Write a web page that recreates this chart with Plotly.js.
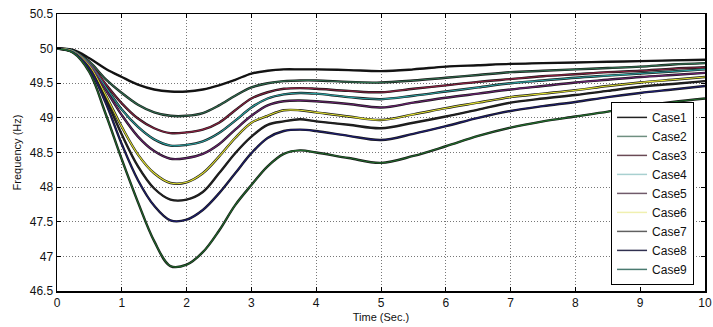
<!DOCTYPE html>
<html>
<head>
<meta charset="utf-8">
<script src="https://cdn.plot.ly/plotly-3.0.1.min.js"></script>
<style>html,body{margin:0;padding:0;background:#fff;}#chart{width:713px;height:327px;}</style>
</head>
<body>
<div id="chart"></div>
<script>
const time = [0, 0.25, 0.5, 0.75, 1, 1.25, 1.5, 1.75, 2, 2.25, 2.5, 2.75, 3, 3.25, 3.5, 3.75, 4, 4.5, 5, 5.5, 6, 6.5, 7, 7.5, 8, 8.5, 9, 9.5, 10];
const case1 = [50, 49.98, 49.86, 49.71, 49.59, 49.48, 49.41, 49.38, 49.38, 49.41, 49.47, 49.55, 49.64, 49.68, 49.70, 49.70, 49.70, 49.69, 49.675, 49.70, 49.74, 49.76, 49.78, 49.79, 49.80, 49.81, 49.82, 49.83, 49.84];
const case2 = [50, 49.97, 49.81, 49.56, 49.36, 49.19, 49.08, 49.03, 49.03, 49.07, 49.18, 49.32, 49.44, 49.50, 49.53, 49.54, 49.54, 49.52, 49.51, 49.54, 49.58, 49.62, 49.66, 49.68, 49.70, 49.72, 49.74, 49.77, 49.79];
const case3 = [50, 49.97, 49.79, 49.49, 49.21, 48.99, 48.85, 48.78, 48.79, 48.83, 48.93, 49.11, 49.28, 49.37, 49.42, 49.43, 49.42, 49.39, 49.37, 49.42, 49.47, 49.52, 49.56, 49.60, 49.63, 49.66, 49.68, 49.71, 49.73];
const case4 = [50, 49.97, 49.78, 49.45, 49.12, 48.87, 48.69, 48.60, 48.61, 48.66, 48.78, 48.96, 49.15, 49.28, 49.34, 49.36, 49.35, 49.30, 49.27, 49.32, 49.38, 49.44, 49.50, 49.54, 49.58, 49.61, 49.64, 49.67, 49.70];
const case5 = [50, 49.96, 49.77, 49.41, 49.04, 48.73, 48.52, 48.41, 48.42, 48.48, 48.62, 48.83, 49.03, 49.18, 49.24, 49.25, 49.24, 49.20, 49.15, 49.22, 49.29, 49.35, 49.41, 49.46, 49.51, 49.55, 49.59, 49.62, 49.65];
const case6 = [50, 49.96, 49.75, 49.33, 48.87, 48.47, 48.20, 48.06, 48.07, 48.20, 48.44, 48.71, 48.93, 49.03, 49.11, 49.11, 49.08, 49.02, 48.97, 49.05, 49.14, 49.22, 49.30, 49.35, 49.40, 49.46, 49.51, 49.55, 49.59];
const case7 = [50, 49.95, 49.73, 49.28, 48.76, 48.30, 47.98, 47.82, 47.82, 47.93, 48.20, 48.49, 48.73, 48.90, 48.95, 48.98, 48.95, 48.90, 48.85, 48.93, 49.02, 49.12, 49.22, 49.28, 49.33, 49.39, 49.45, 49.49, 49.53];
const case8 = [50, 49.95, 49.71, 49.22, 48.62, 48.10, 47.73, 47.52, 47.53, 47.67, 47.91, 48.20, 48.49, 48.71, 48.81, 48.83, 48.81, 48.74, 48.68, 48.77, 48.88, 49.00, 49.10, 49.17, 49.23, 49.30, 49.36, 49.41, 49.46];
const case9 = [50, 49.94, 49.66, 49.06, 48.40, 47.78, 47.22, 46.86, 46.88, 47.06, 47.37, 47.74, 48.03, 48.30, 48.48, 48.53, 48.50, 48.42, 48.35, 48.45, 48.59, 48.74, 48.86, 48.95, 49.02, 49.09, 49.17, 49.23, 49.28];
const seriesNames = ["Case1","Case2","Case3","Case4","Case5","Case6","Case7","Case8","Case9"];
const seriesValues = [case1, case2, case3, case4, case5, case6, case7, case8, case9];
const coreColors = ["#111111","#2f6e4f","#8a2040","#2aa0a0","#6a2070","#e0e030","#222222","#1c1c70","#1f6a2a"];
const legendColors = ["#222222","#6f8f80","#6a4a55","#a8d0d0","#705a6a","#f0f0b0","#606060","#303050","#4a7a70"];
const xTicks = [0,1,2,3,4,5,6,7,8,9,10];
const yTicks = [46.5,47,47.5,48,48.5,49,49.5,50,50.5];

const traces = [];
seriesValues.forEach((vals, i) => {
  traces.push({x: time, y: vals, mode: 'lines', type: 'scatter', showlegend: false, hoverinfo: 'skip',
    line: {color: '#1a1a1a', width: 2.4, shape: 'spline', smoothing: 1}});
});
seriesValues.forEach((vals, i) => {
  traces.push({x: time, y: vals, mode: 'lines', type: 'scatter', name: seriesNames[i], showlegend: false,
    line: {color: coreColors[i], width: 1.1, shape: 'spline', smoothing: 1}});
});
seriesValues.forEach((vals, i) => {
  traces.push({x: [null], y: [null], mode: 'lines', type: 'scatter', name: seriesNames[i], showlegend: true,
    line: {color: legendColors[i], width: 1.5}});
});

const font = "'Liberation Sans Narrow', 'Liberation Sans', Arial, sans-serif";
const layout = {
  width: 713, height: 327,
  margin: {l: 57, r: 8, t: 14, b: 36},
  paper_bgcolor: '#fff', plot_bgcolor: '#fff',
  font: {family: font, size: 12, color: '#111'},
  showlegend: true,
  legend: {x: 0.855, y: 0.022, xanchor: 'left', yanchor: 'bottom', bgcolor: '#fff',
    bordercolor: '#000', borderwidth: 1, font: {family: font, size: 12, color: '#111'},
    tracegroupgap: 0, itemwidth: 30},
  xaxis: {range: [0, 10], tickvals: xTicks, ticktext: xTicks.map(String), ticks: 'inside', ticklen: 4,
    tickcolor: '#000', showline: true, linecolor: '#000', linewidth: 1.5, mirror: 'ticks',
    ticklabeloverflow: 'allow',
    showgrid: true, gridcolor: '#777', griddash: '1px,2px', gridwidth: 1, zeroline: false,
    tickfont: {family: font, size: 12, color: '#111'},
    title: {text: 'Time (Sec.)', font: {family: font, size: 11, color: '#111'}, standoff: 4}},
  yaxis: {range: [46.5, 50.5], tickvals: yTicks, ticktext: yTicks.map(String), ticks: 'inside', ticklen: 4,
    tickcolor: '#000', showline: true, linecolor: '#000', linewidth: 1.5, mirror: 'ticks',
    showgrid: true, gridcolor: '#777', griddash: '1px,2px', gridwidth: 1, zeroline: false,
    tickfont: {family: font, size: 12, color: '#111'},
    title: {text: 'Frequency (Hz)', font: {family: font, size: 11, color: '#111'}, standoff: 6}}
};
Plotly.newPlot('chart', traces, layout, {displayModeBar: false, staticPlot: true});
</script>
</body>
</html>
